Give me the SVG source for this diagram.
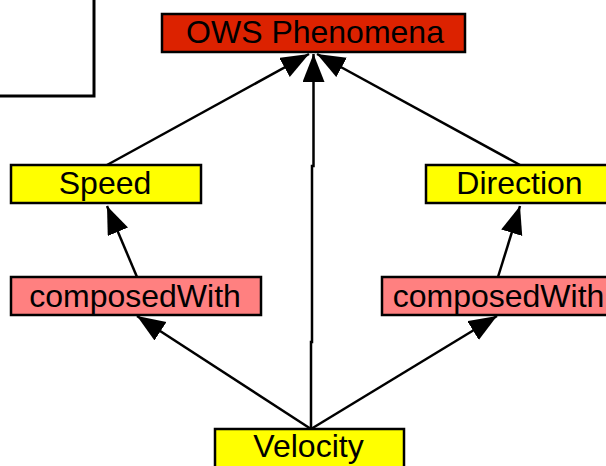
<svg xmlns="http://www.w3.org/2000/svg" width="606" height="466" viewBox="0 0 606 466">
<style>
.box{stroke:#000;stroke-width:2.5}
.red{fill:#DC2200}
.yellow{fill:#FFFF00}
.pink{fill:#FF8080}
text{font-family:"Liberation Sans",Arial,sans-serif;font-size:32px;fill:#000;text-anchor:middle}
.edge{stroke:#000;stroke-width:2.5;fill:none;marker-end:url(#arrow)}
</style>
<defs>
<marker id="arrow" markerUnits="userSpaceOnUse" markerWidth="30" markerHeight="24" refX="28" refY="11" orient="auto">
<path d="M0,0 L28,11 L0,22 z" fill="#000"/>
</marker>
</defs>
<rect width="606" height="466" fill="#fff"/>
<g id="partial-box">
<rect x="-5" y="-5" width="99" height="101" fill="#fff" stroke="#000" stroke-width="3"/>
</g>
<g id="connectors">
<line class="edge" x1="107" y1="165" x2="309" y2="54"/>
<line class="edge" x1="520" y1="165" x2="317" y2="54"/>
<path class="edge" d="M311,429 L311,342 L312,342 L312,166 L313.5,166 L313.5,54"/>
<line class="edge" x1="137" y1="277" x2="107" y2="206"/>
<line class="edge" x1="498" y1="277" x2="520" y2="206"/>
<line class="edge" x1="311" y1="429" x2="137" y2="316"/>
<line class="edge" x1="311" y1="429" x2="497" y2="316"/>
</g>
<g id="ows-phenomena">
<rect class="box red" x="162" y="14" width="303" height="38"/>
<text x="315" y="43">OWS Phenomena</text>
</g>
<g id="speed">
<rect class="box yellow" x="11" y="165" width="190" height="38"/>
<text x="105" y="194">Speed</text>
</g>
<g id="direction">
<rect class="box yellow" x="426" y="165" width="190" height="38"/>
<text x="519.5" y="194">Direction</text>
</g>
<g id="composedWith-left">
<rect class="box pink" x="11" y="277" width="250" height="38"/>
<text x="135" y="307">composedWith</text>
</g>
<g id="composedWith-right">
<rect class="box pink" x="382" y="277" width="250" height="38"/>
<text x="498.5" y="307">composedWith</text>
</g>
<g id="velocity">
<rect class="box yellow" x="215" y="429" width="189" height="45"/>
<text x="308.5" y="457">Velocity</text>
</g>
</svg>
